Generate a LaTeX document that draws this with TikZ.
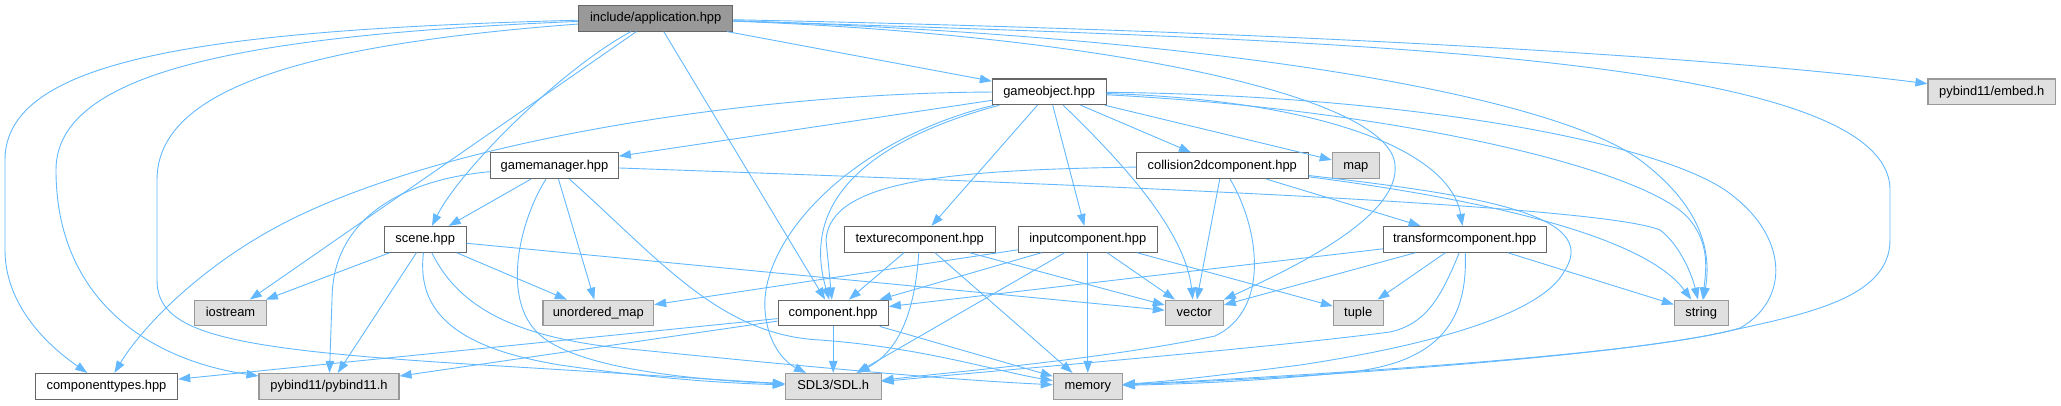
\documentclass[tikz,border=0pt]{standalone}
\usepackage{fontspec}
\setmainfont{Liberation Sans}
\usetikzlibrary{arrows.meta}
\definecolor{edgec}{HTML}{63B8FF}
\definecolor{bordc}{HTML}{666666}
\definecolor{grayc}{HTML}{999999}
\definecolor{extc}{HTML}{E0E0E0}
\newcommand\nodefont{\fontsize{12.9bp}{15bp}\selectfont}
\tikzset{
  hdr/.style={draw=bordc, fill=white, line width=1.1bp, inner sep=0pt, minimum height=25.7bp,
    font=\nodefont, text=black, text height=9.4bp, text depth=2.8bp},
  extnode/.style={hdr, draw=grayc, fill=extc},
  rootnode/.style={hdr, fill=grayc},
  dep/.style={draw=edgec, line width=0.9bp, -{Triangle[length=12bp,width=8.5bp]}},
}
\begin{document}
\begin{tikzpicture}[x=1bp, y=-1bp]
\useasboundingbox (0,0) rectangle (2061,405);
% nodes
\node[rootnode, minimum width=154bp] (app) at (655.7,18.2) {include/application.hpp};
\node[hdr, minimum width=113.7bp] (gobj) at (1049.2,91.8) {gameobject.hpp};
\node[extnode, minimum width=127.7bp] (embed) at (1991.8,91.8) {pybind11/embed.h};
\node[hdr, minimum width=127.6bp] (gman) at (554.5,165.7) {gamemanager.hpp};
\node[hdr, minimum width=172bp] (coll) at (1222.3,165.7) {collision2dcomponent.hpp};
\node[extnode, minimum width=47bp] (map) at (1355.8,165.7) {map};
\node[hdr, minimum width=81.7bp] (scene) at (425.2,239.3) {scene.hpp};
\node[hdr, minimum width=150.7bp] (tex) at (919.7,239.3) {texturecomponent.hpp};
\node[hdr, minimum width=139bp] (inp) at (1087.8,239.3) {inputcomponent.hpp};
\node[hdr, minimum width=162.7bp] (trans) at (1464.7,239.3) {transformcomponent.hpp};
\node[extnode, minimum width=71.6bp] (ios) at (230.5,313) {iostream};
\node[extnode, minimum width=110.7bp] (umap) at (598.3,313) {unordered\_map};
\node[hdr, minimum width=110.3bp] (comp) at (833.2,313) {component.hpp};
\node[extnode, minimum width=58bp] (vec) at (1194.3,313) {vector};
\node[extnode, minimum width=49.7bp] (tup) at (1358.2,313) {tuple};
\node[extnode, minimum width=53.7bp] (str) at (1701.2,313) {string};
\node[hdr, minimum width=142.4bp] (ctypes) at (106.5,386.3) {componenttypes.hpp};
\node[extnode, minimum width=140bp] (pyb) at (329,386.3) {pybind11/pybind11.h};
\node[extnode, minimum width=95.7bp] (sdl) at (833.2,386.3) {SDL3/SDL.h};
\node[extnode, minimum width=69bp] (mem) at (1087.8,386.3) {memory};
% application.hpp
\draw[dep] (app) -- (gobj);
\draw[dep] (app) .. controls (1250,30) and (1700,55) .. (embed);
\draw[dep] (app) .. controls (1300,40) and (1890,50) .. (1890,190) -- (1890,240) .. controls (1890,300) and (1800,315) .. (1720,333) .. controls (1600,358) and (1300,378) .. (mem);
\draw[dep] (app) .. controls (1100,35) and (1390,95) .. (1395,165) .. controls (1400,215) and (1300,265) .. (vec);
\draw[dep] (app) .. controls (1250,38) and (1560,100) .. (1640,160) .. controls (1700,205) and (1712,250) .. (str);
\draw[dep] (app) .. controls (200,30) and (5,60) .. (5,160) -- (5,250) .. controls (5,300) and (40,340) .. (ctypes);
\draw[dep] (app) .. controls (250,35) and (56,70) .. (56,170) .. controls (56,300) and (150,360) .. (pyb);
\draw[dep] (app) .. controls (300,45) and (157,90) .. (157,180) -- (157,280) .. controls (157,335) and (230,350) .. (500,366) .. controls (650,375) and (720,380) .. (sdl);
\draw[dep] (app) -- (ios);
\draw[dep] (app) .. controls (560,70) and (460,170) .. (scene);
\draw[dep] (app) -- (comp);
% gameobject.hpp
\draw[dep] (gobj) -- (gman);
\draw[dep] (gobj) .. controls (750,93) and (450,140) .. (290,220) .. controls (200,265) and (140,330) .. (ctypes);
\draw[dep] (gobj) .. controls (850,140) and (760,240) .. (765,310) .. controls (768,350) and (790,365) .. (sdl);
\draw[dep] (gobj) .. controls (870,140) and (800,200) .. (comp);
\draw[dep] (gobj) -- (tex);
\draw[dep] (gobj) -- (inp);
\draw[dep] (gobj) .. controls (1120,160) and (1185,230) .. (vec);
\draw[dep] (gobj) -- (coll);
\draw[dep] (gobj) -- (map);
\draw[dep] (gobj) .. controls (1320,100) and (1450,150) .. (trans);
\draw[dep] (gobj) .. controls (1400,110) and (1650,170) .. (1690,220) .. controls (1710,245) and (1706,270) .. (str);
\draw[dep] (gobj) .. controls (1400,95) and (1650,140) .. (1725,190) .. controls (1790,235) and (1790,300) .. (1740,328) .. controls (1650,355) and (1300,376) .. (mem);
% gamemanager.hpp
\draw[dep] (gman) -- (scene);
\draw[dep] (gman) -- (umap);
\draw[dep] (gman) .. controls (520,220) and (500,300) .. (540,335) .. controls (580,370) and (700,380) .. (sdl);
\draw[dep] (gman) .. controls (660,260) and (720,335) .. (820,340) .. controls (920,347) and (1000,372) .. (mem);
\draw[dep] (gman) .. controls (400,180) and (332,220) .. (332,300) -- (pyb);
\draw[dep] (gman) .. controls (1100,185) and (1600,205) .. (1660,230) .. controls (1680,245) and (1692,275) .. (str);
% scene.hpp
\draw[dep] (scene) -- (ios);
\draw[dep] (scene) -- (pyb);
\draw[dep] (scene) .. controls (415,320) and (470,350) .. (560,365) .. controls (650,378) and (720,383) .. (sdl);
\draw[dep] (scene) .. controls (460,310) and (520,340) .. (640,350) .. controls (800,366) and (950,380) .. (mem);
\draw[dep] (scene) -- (umap);
\draw[dep] (scene) -- (vec);
% texturecomponent.hpp
\draw[dep] (tex) -- (comp);
\draw[dep] (tex) .. controls (915,310) and (900,350) .. (sdl);
\draw[dep] (tex) -- (mem);
\draw[dep] (tex) -- (vec);
% inputcomponent.hpp
\draw[dep] (inp) -- (umap);
\draw[dep] (inp) -- (comp);
\draw[dep] (inp) -- (sdl);
\draw[dep] (inp) -- (mem);
\draw[dep] (inp) -- (vec);
\draw[dep] (inp) -- (tup);
% transformcomponent.hpp
\draw[dep] (trans) -- (comp);
\draw[dep] (trans) -- (vec);
\draw[dep] (trans) -- (tup);
\draw[dep] (trans) .. controls (1440,300) and (1425,324) .. (1390,332) .. controls (1250,350) and (1000,370) .. (sdl);
\draw[dep] (trans) .. controls (1468,320) and (1440,362) .. (1350,372) .. controls (1250,382) and (1180,384) .. (mem);
\draw[dep] (trans) -- (str);
% collision2dcomponent.hpp
\draw[dep] (coll) .. controls (950,170) and (830,180) .. (826,240) -- (comp);
\draw[dep] (coll) -- (vec);
\draw[dep] (coll) .. controls (1260,230) and (1270,310) .. (1215,336) .. controls (1100,360) and (950,372) .. (sdl);
\draw[dep] (coll) -- (trans);
\draw[dep] (coll) .. controls (1450,195) and (1640,230) .. (str);
\draw[dep] (coll) .. controls (1480,195) and (1600,215) .. (1565,270) .. controls (1540,320) and (1400,350) .. (1300,365) .. controls (1200,378) and (1160,382) .. (mem);
% component.hpp
\draw[dep] (comp) -- (sdl);
\draw[dep] (comp) -- (mem);
\draw[dep] (comp) -- (ctypes);
\draw[dep] (comp) -- (pyb);
\end{tikzpicture}
\end{document}
